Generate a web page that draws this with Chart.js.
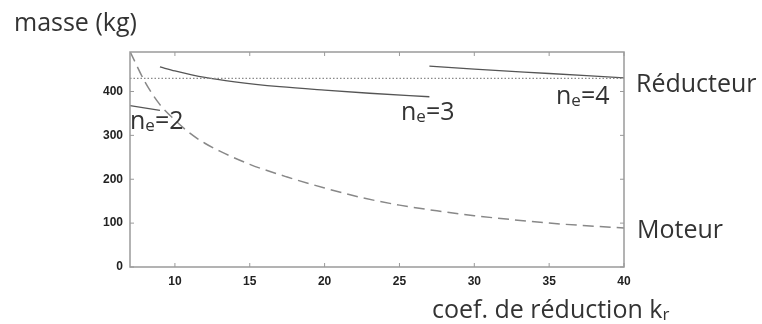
<!DOCTYPE html>
<html>
<head>
<meta charset="utf-8">
<script src="https://cdn.jsdelivr.net/npm/chart.js@4/dist/chart.umd.min.js"></script>
<style>
    body { margin: 0; background: #fff; }
    #wrap { width: 762px; height: 324px; }
</style>
</head>
<body>
<div id="wrap"><canvas id="massChart" width="762" height="324"></canvas></div>
<script>
// valeurs
var krMoteur = [7, 8, 9, 10, 11, 12, 13, 15, 17.5, 20, 22.5, 25, 27.5, 30, 32.5, 35, 37.5, 40];
var masseMoteur = [491, 422, 370, 335, 305, 282, 264, 234, 205, 180, 158, 141, 128, 117, 108, 100, 94, 89];

var krNe2 = [7, 9];
var masseNe2 = [368, 357];

var krNe3 = [9, 10, 12, 14, 17, 20, 23, 27];
var masseNe3 = [456, 447, 432, 422, 411, 403, 396, 388];

var krNe4 = [27, 30, 35, 40];
var masseNe4 = [458, 451, 441, 431];

var krReducteur = [7, 40];
var masseReducteur = [430, 430];

var xTicks = [10, 15, 20, 25, 30, 35, 40];
var yTicks = [0, 100, 200, 300, 400];

function toPoints(xs, ys) {
    return xs.map(function (x, i) { return { x: x, y: ys[i] }; });
}

var bigFont = '25px "Open Sans"';
var subFont = '17px "Open Sans"';
var textColor = '#333';

// texte avec indice (ne, kr)
function drawSub(ctx, x, y, main, sub, rest) {
    ctx.font = bigFont;
    ctx.fillText(main, x, y);
    x += ctx.measureText(main).width;
    ctx.font = subFont;
    ctx.fillText(sub, x, y + 2);
    x += ctx.measureText(sub).width;
    if (rest) {
        ctx.font = bigFont;
        ctx.fillText(rest, x, y);
    }
}

var framePlugin = {
    id: 'frame',
    afterDatasetsDraw: function (chart) {
        var ctx = chart.ctx;
        var a = chart.chartArea;
        var sx = chart.scales.x;
        var sy = chart.scales.y;
        ctx.save();
        ctx.strokeStyle = '#9a9a9a';
        ctx.lineWidth = 1.5;
        ctx.strokeRect(a.left, a.top, a.right - a.left, a.bottom - a.top);
        ctx.lineWidth = 1;
        ctx.beginPath();
        xTicks.forEach(function (v) {
            var px = sx.getPixelForValue(v);
            ctx.moveTo(px, a.bottom); ctx.lineTo(px, a.bottom - 4);
            ctx.moveTo(px, a.top); ctx.lineTo(px, a.top + 4);
        });
        yTicks.forEach(function (v) {
            var py = sy.getPixelForValue(v);
            ctx.moveTo(a.left, py); ctx.lineTo(a.left + 4, py);
            ctx.moveTo(a.right, py); ctx.lineTo(a.right - 4, py);
        });
        ctx.stroke();
        ctx.restore();
    },
    afterDraw: function (chart) {
        var ctx = chart.ctx;
        ctx.save();
        ctx.fillStyle = textColor;
        ctx.textBaseline = 'alphabetic';
        ctx.textAlign = 'left';
        ctx.font = bigFont;
        ctx.fillText('masse (kg)', 14, 31);
        ctx.fillText('Réducteur', 636, 92);
        ctx.fillText('Moteur', 637, 238);
        drawSub(ctx, 432, 318, 'coef. de réduction k', 'r');
        drawSub(ctx, 130, 129, 'n', 'e', '=2');
        drawSub(ctx, 401, 120, 'n', 'e', '=3');
        drawSub(ctx, 556, 104, 'n', 'e', '=4');
        ctx.restore();
    }
};

var solid = { borderColor: '#555', borderWidth: 1.3, pointRadius: 0, fill: false, cubicInterpolationMode: 'monotone' };

new Chart(document.getElementById('massChart').getContext('2d'), {
    type: 'line',
    data: {
        datasets: [
            Object.assign({ label: 'Moteur', data: toPoints(krMoteur, masseMoteur) }, solid, { borderColor: '#888', borderWidth: 1.5, borderDash: [11, 6] }),
            Object.assign({ label: 'Réducteur', data: toPoints(krReducteur, masseReducteur) }, solid, { borderColor: '#8a8a8a', borderWidth: 1.2, borderDash: [1.5, 2] }),
            Object.assign({ label: 'ne=2', data: toPoints(krNe2, masseNe2) }, solid),
            Object.assign({ label: 'ne=3', data: toPoints(krNe3, masseNe3) }, solid),
            Object.assign({ label: 'ne=4', data: toPoints(krNe4, masseNe4) }, solid)
        ]
    },
    options: {
        responsive: false,
        animation: false,
        layout: { padding: { top: 52, right: 138, left: 0, bottom: 0 } },
        plugins: {
            legend: { display: false },
            tooltip: { enabled: false }
        },
        scales: {
            x: {
                type: 'linear',
                min: 7,
                max: 40,
                afterBuildTicks: function (scale) {
                    scale.ticks = xTicks.map(function (v) { return { value: v }; });
                },
                afterFit: function (scale) { scale.height = 57; },
                grid: { display: false, drawTicks: false },
                border: { display: false },
                ticks: { color: '#222', font: { family: 'Liberation Sans', size: 12, weight: 'bold' }, padding: 7, maxRotation: 0 }
            },
            y: {
                type: 'linear',
                min: 0,
                max: 490,
                afterBuildTicks: function (scale) {
                    scale.ticks = yTicks.map(function (v) { return { value: v }; });
                },
                afterFit: function (scale) { scale.width = 130; },
                grid: { display: false, drawTicks: false },
                border: { display: false },
                ticks: { color: '#222', font: { family: 'Liberation Sans', size: 12, weight: 'bold' }, padding: 7 }
            }
        }
    },
    plugins: [framePlugin]
});
</script>
</body>
</html>
